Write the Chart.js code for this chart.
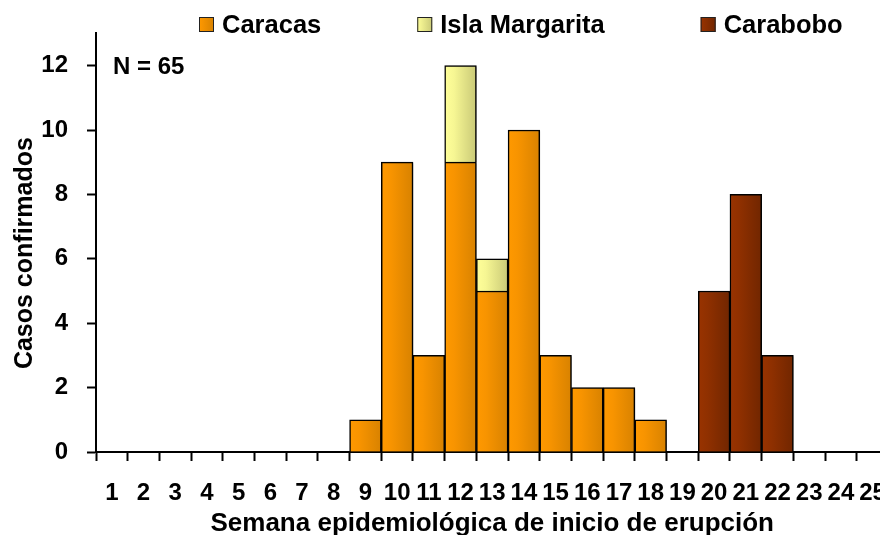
<!DOCTYPE html>
<html>
<head>
<meta charset="utf-8">
<script src="https://cdn.jsdelivr.net/npm/chart.js@4/dist/chart.umd.min.js"></script>
<style>
  html, body { margin: 0; padding: 0; background: #fff; overflow: hidden; }
  #wrap { width: 904px; height: 535px; position: relative; }
</style>
</head>
<body>
<div id="wrap"><canvas id="myChart"></canvas></div>
<script>
//====================== DATA ======================//
var weeks = ["1","2","3","4","5","6","7","8","9","10","11","12","13","14","15","16","17","18","19","20","21","22","23","24","25"];
var caracas =        [null,null,null,null,null,null,null,null,1,9,3,9,5,10,3,2,2,1,null,null,null,null,null,null,null];
var islaMargarita =  [null,null,null,null,null,null,null,null,null,null,null,3,1,null,null,null,null,null,null,null,null,null,null,null,null];
var carabobo =       [null,null,null,null,null,null,null,null,null,null,null,null,null,null,null,null,null,null,null,5,8,3,null,null,null];
var yTicks = [0,2,4,6,8,10,12];
var seriesNames = ["Caracas","Isla Margarita","Carabobo"];
var nLabel = "N = 65";

var FONT = "'Liberation Sans', Arial, sans-serif";

// left -> right gradient colours for each series
var gradColors = [
    ["#ff9900", "#f89400", "#d88200"],
    ["#ffff99", "#f6f693", "#c9c977"],
    ["#993300", "#8f3000", "#712600"]
];

function barGradient(cols){
    return function(ctx){
        var chart = ctx.chart;
        var x = chart.scales.x;
        if(ctx.type !== "data" || !x){
            return cols[0];
        }
        var center = x.getPixelForValue(ctx.dataIndex);
        var half = (x.getPixelForValue(1) - x.getPixelForValue(0)) / 2;
        if(!isFinite(center) || !isFinite(half) || half <= 0){
            return cols[0];
        }
        var g = chart.ctx.createLinearGradient(center - half, 0, center + half, 0);
        g.addColorStop(0, cols[0]);
        g.addColorStop(0.3, cols[1]);
        g.addColorStop(1, cols[2]);
        return g;
    };
}

// soft shadow behind the bars
var shadowPlugin = {
    id: "barShadow",
    beforeDatasetsDraw: function(chart){
        var c = chart.ctx;
        c.save();
        c.shadowColor = "rgba(0,0,0,0.35)";
        c.shadowOffsetX = 2;
        c.shadowOffsetY = 1;
        c.shadowBlur = 2;
    },
    afterDatasetsDraw: function(chart){
        chart.ctx.restore();
    }
};

// legend row at the top + the "N = 65" note
var extrasPlugin = {
    id: "extras",
    afterDraw: function(chart){
        var c = chart.ctx;
        c.save();
        c.font = "bold 25.5px " + FONT;
        c.textBaseline = "middle";
        c.textAlign = "left";
        var x = 199;
        var y = 24.5;
        chart.data.datasets.forEach(function(ds, i){
            var g = c.createLinearGradient(x, 0, x + 15, 0);
            g.addColorStop(0, gradColors[i][0]);
            g.addColorStop(1, gradColors[i][2]);
            c.fillStyle = g;
            c.fillRect(x, y - 7.5, 15, 15);
            c.strokeStyle = "#222";
            c.lineWidth = 1;
            c.strokeRect(x + 0.5, y - 7, 14, 14);
            c.fillStyle = "#000";
            c.fillText(ds.label, x + 23, y + 1);
            x += 23 + c.measureText(ds.label).width + 96;
        });
        c.font = "bold 24px " + FONT;
        c.fillText(nLabel, 113, 67);
        c.restore();
    }
};

new Chart("myChart", {
    type: "bar",
    data: {
        labels: weeks,
        datasets: [{
            label: seriesNames[0],
            data: caracas,
            backgroundColor: barGradient(gradColors[0]),
            borderColor: "#000",
            borderWidth: 1.5
        },{
            label: seriesNames[1],
            data: islaMargarita,
            backgroundColor: barGradient(gradColors[1]),
            borderColor: "#000",
            borderWidth: 1.5
        },{
            label: seriesNames[2],
            data: carabobo,
            backgroundColor: barGradient(gradColors[2]),
            borderColor: "#000",
            borderWidth: 1.5
        }]
    },
    options: {
        responsive: true,
        maintainAspectRatio: false,
        animation: false,
        datasets: {
            bar: { barPercentage: 1, categoryPercentage: 1 }
        },
        layout: {
            padding: { top: 33, left: 0, right: 3, bottom: 0 }
        },
        plugins: {
            legend: { display: false },
            tooltip: { enabled: false }
        },
        scales: {
            x: {
                stacked: true,
                afterFit: function(axis){ axis.height = 83; },
                grid: {
                    offset: true,
                    drawOnChartArea: false,
                    tickLength: 9,
                    tickWidth: 2,
                    tickColor: "#000"
                },
                border: { color: "#000", width: 2 },
                ticks: {
                    color: "#000",
                    padding: 18,
                    maxRotation: 0,
                    autoSkip: false,
                    font: { family: FONT, size: 24, weight: "bold" }
                },
                title: {
                    display: true,
                    text: "Semana epidemiológica de inicio de erupción",
                    color: "#000",
                    padding: { top: -2, bottom: -2 },
                    font: { family: FONT, size: 26, weight: "bold", lineHeight: 1 }
                }
            },
            y: {
                stacked: true,
                min: 0,
                max: 13,
                afterFit: function(axis){ axis.width = 96; },
                afterBuildTicks: function(axis){
                    axis.ticks = yTicks.map(function(v){ return { value: v }; });
                },
                grid: {
                    drawOnChartArea: false,
                    tickLength: 9,
                    tickWidth: 2,
                    tickColor: "#000"
                },
                border: { color: "#000", width: 2 },
                ticks: {
                    color: "#000",
                    padding: 19,
                    font: { family: FONT, size: 24, weight: "bold" }
                },
                title: {
                    display: true,
                    text: "Casos confirmados   ",
                    color: "#000",
                    padding: { top: 13, bottom: 0 },
                    font: { family: FONT, size: 25, weight: "bold", lineHeight: 1 }
                }
            }
        }
    },
    plugins: [shadowPlugin, extrasPlugin]
});
</script>
</body>
</html>
